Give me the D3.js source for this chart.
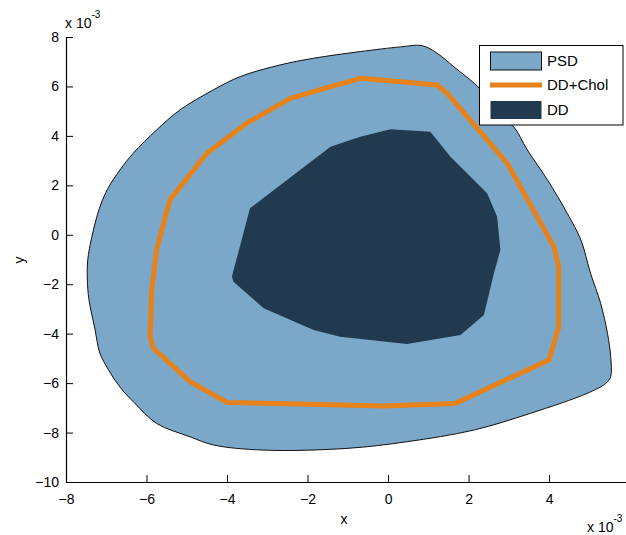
<!DOCTYPE html>
<html>
<head>
<meta charset="utf-8">
<script src="https://cdn.jsdelivr.net/npm/d3@7"></script>
<style>
  body { margin: 0; background: #fff; }
  text { font-family: "Liberation Sans", Arial, sans-serif; fill: #000; }
</style>
</head>
<body>
<div id="chart"></div>
<script>
// all values in units of 1e-3
var psdX = [0.85, 1.22, 1.63, 2.30, 2.79, 3.12, 3.46, 3.96, 4.45, 4.79, 5.03, 5.28, 5.45, 5.53, 5.53, 5.41, 4.95, 3.54, 2.13, 0.47, -1.02, -3.09, -4.34, -4.92, -5.75, -6.30, -6.66, -6.95, -7.16, -7.28, -7.43, -7.47, -7.46, -7.36, -7.16, -6.95, -6.66, -6.33, -5.75, -5.17, -4.34, -3.67, -2.68, -1.85, -0.69, 0.31];
var psdY = [7.65, 7.34, 6.80, 5.88, 4.78, 4.37, 3.43, 2.22, 0.87, -0.21, -1.56, -2.77, -3.98, -4.93, -5.74, -6.01, -6.41, -7.22, -7.90, -8.37, -8.64, -8.71, -8.50, -8.17, -7.63, -6.80, -6.16, -5.45, -4.78, -3.83, -2.62, -1.83, -1.02, -0.10, 1.12, 1.90, 2.62, 3.30, 4.24, 5.05, 5.86, 6.40, 6.87, 7.14, 7.41, 7.60];

var cholX = [-5.42, -4.50, -3.51, -2.43, -1.27, -0.69, 1.22, 1.47, 2.96, 4.12, 4.24, 4.24, 4.00, 1.67, -0.11, -4.00, -4.92, -5.83, -5.91, -5.87, -5.75];
var cholY = [1.41, 3.30, 4.51, 5.52, 6.06, 6.33, 6.06, 5.72, 2.89, -0.48, -1.29, -3.72, -5.06, -6.82, -6.93, -6.78, -5.94, -4.59, -4.12, -2.23, -0.62];

var ddX = [0.06, 1.05, 1.55, 2.46, 2.71, 2.79, 2.63, 2.38, 1.80, 0.47, -1.19, -1.85, -3.09, -3.84, -3.88, -3.67, -3.43, -1.43, -0.69];
var ddY = [4.27, 4.17, 3.16, 1.68, 0.73, -0.61, -1.56, -3.24, -4.05, -4.42, -4.12, -3.85, -2.97, -1.90, -1.69, -0.41, 1.07, 3.56, 3.97];

var xTicks = [-8, -6, -4, -2, 0, 2, 4, 6];
var yTicks = [-10, -8, -6, -4, -2, 0, 2, 4, 6, 8];
var legendNames = ['PSD', 'DD+Chol', 'DD'];

var psdColor = '#7ba7c9';
var cholColor = '#e5821a';
var ddColor = '#213a4f';

var svg = d3.select('#chart').append('svg').attr('width', 626).attr('height', 535);

var xScale = d3.scaleLinear().domain([-8, 6]).range([66, 629.6]);
var yScale = d3.scaleLinear().domain([-10, 8]).range([482, 37]);

var toPts = (xs, ys) => xs.map((x, i) => [xScale(x), yScale(ys[i])]);
var line = d3.line().curve(d3.curveLinearClosed);
var smooth = d3.line().curve(d3.curveCatmullRomClosed.alpha(0.5));

svg.append('path')
    .attr('d', smooth(toPts(psdX, psdY)))
    .attr('fill', psdColor)
    .attr('stroke', '#111')
    .attr('stroke-width', 1);

svg.append('path')
    .attr('d', line(toPts(cholX, cholY)))
    .attr('fill', 'none')
    .attr('stroke', cholColor)
    .attr('stroke-width', 5)
    .attr('stroke-linejoin', 'round');

svg.append('path')
    .attr('d', line(toPts(ddX, ddY)))
    .attr('fill', ddColor);

// axes, ticks point inward like matlab
var xAxis = svg.append('g')
    .attr('transform', 'translate(0,482)')
    .call(d3.axisBottom(xScale).tickValues(xTicks).tickSizeInner(-7).tickSizeOuter(0).tickPadding(12));

var yAxis = svg.append('g')
    .attr('transform', 'translate(66,0)')
    .call(d3.axisLeft(yScale).tickValues(yTicks).tickSizeInner(-7).tickSizeOuter(0).tickPadding(7));

[xAxis, yAxis].forEach(function (ax) {
    ax.select('.domain').attr('stroke', '#000').attr('stroke-width', 1.2);
    ax.selectAll('.tick line').attr('stroke', '#000');
    ax.selectAll('.tick text').attr('font-size', 14).attr('font-family', '"Liberation Sans", Arial, sans-serif').attr('fill', '#000');
});

// exponent labels
var expTop = svg.append('text').attr('x', 65).attr('y', 28).attr('font-size', 14);
expTop.append('tspan').text('x 10');
expTop.append('tspan').attr('dy', -10).attr('font-size', 10).text('-3');

var expBot = svg.append('text').attr('x', 587).attr('y', 532).attr('font-size', 14);
expBot.append('tspan').text('x 10');
expBot.append('tspan').attr('dy', -10).attr('font-size', 10).text('-3');

svg.append('text')
    .attr('x', 344)
    .attr('y', 524)
    .attr('text-anchor', 'middle')
    .attr('font-size', 14)
    .text('x');

svg.append('text')
    .attr('transform', 'translate(24,260) rotate(-90)')
    .attr('text-anchor', 'middle')
    .attr('font-size', 14)
    .text('y');

// legend
var legend = svg.append('g');
legend.append('rect')
    .attr('x', 479.5).attr('y', 45.5)
    .attr('width', 143.5).attr('height', 79.5)
    .attr('fill', '#fff').attr('stroke', '#000').attr('stroke-width', 1);

var rowY = [61, 85, 110];
legendNames.forEach(function (name, i) {
    if (name === 'DD+Chol') {
        legend.append('line')
            .attr('x1', 490).attr('x2', 542)
            .attr('y1', rowY[i]).attr('y2', rowY[i])
            .attr('stroke', cholColor).attr('stroke-width', 5);
    } else {
        legend.append('rect')
            .attr('x', 490.5).attr('y', rowY[i] - 9)
            .attr('width', 51).attr('height', 18)
            .attr('fill', name === 'PSD' ? psdColor : ddColor)
            .attr('stroke', name === 'PSD' ? '#111' : 'none');
    }
    legend.append('text')
        .attr('x', 547)
        .attr('y', rowY[i] + 5)
        .attr('font-size', 15)
        .text(name);
});
</script>
</body>
</html>
